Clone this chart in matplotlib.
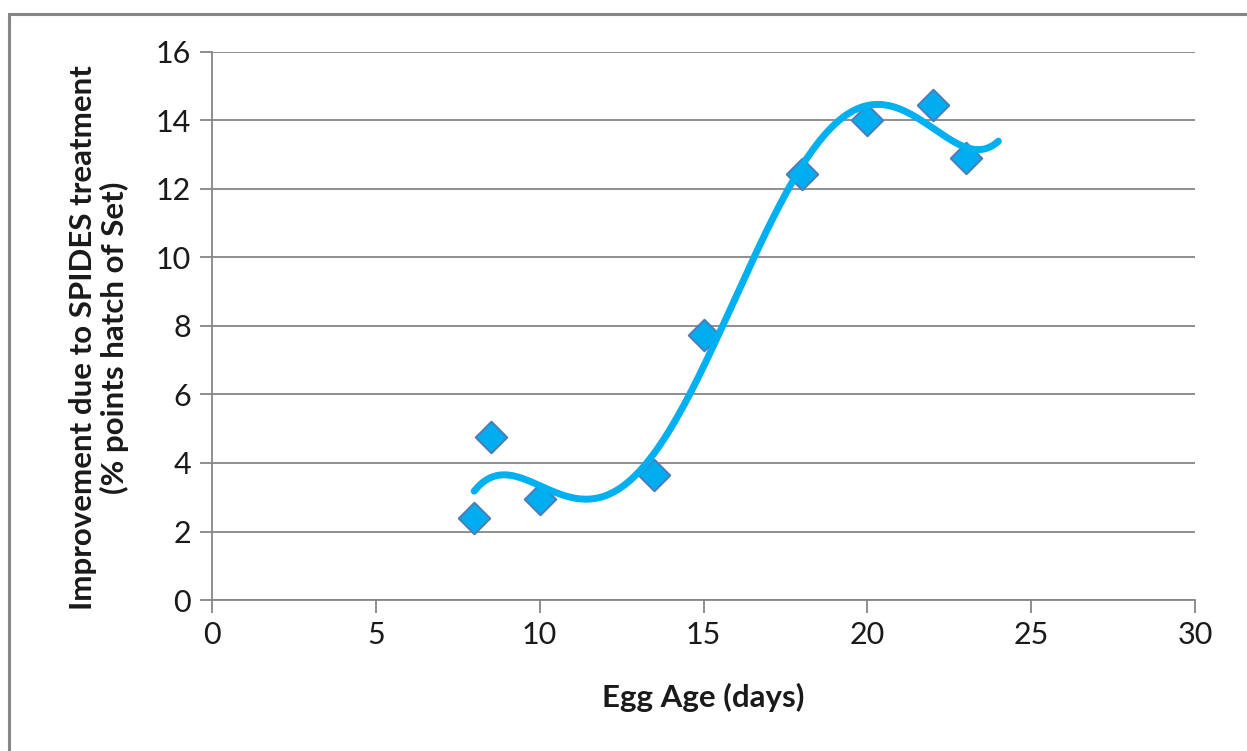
import numpy as np
import matplotlib
matplotlib.use("Agg")
import matplotlib.pyplot as plt
from matplotlib.patches import Rectangle

egg_age = [8, 8.5, 10, 13.5, 15, 18, 20, 22, 23]
improvement = [2.4, 4.75, 2.95, 3.65, 7.75, 12.45, 14.0, 14.45, 12.9]
x_ticks = [0, 5, 10, 15, 20, 25, 30]
y_ticks = [0, 2, 4, 6, 8, 10, 12, 14, 16]
trend_order = 5
trend_forward_to = 24

plt.rcParams['font.family'] = ['Lato', 'DejaVu Sans']

W, H = 1247, 751
fig = plt.figure(figsize=(W / 100, H / 100), dpi=100)
fig.patches.append(Rectangle((9 / W, -0.1), 1.2, (H - 14) / H + 0.1, transform=fig.transFigure,
                             fill=False, edgecolor='#868686', linewidth=2.2))
ax = fig.add_axes([212 / W, 1 - 600 / H, (1195 - 212) / W, (600 - 52) / H])

gray = '#868686'
ax.set_xlim(0, 30)
ax.set_ylim(0, 16)
ax.set_xticks(x_ticks)
ax.set_yticks(y_ticks)
ax.grid(axis='y', color=gray, linewidth=1.3)
ax.set_axisbelow(True)
for s in ['top', 'right']:
    ax.spines[s].set_visible(False)
for s in ['left', 'bottom']:
    ax.spines[s].set_color(gray)
    ax.spines[s].set_linewidth(1.3)
ax.tick_params(axis='both', direction='out', length=9, width=1.3, color=gray,
               labelsize=22, labelcolor='#1a1a1a', pad=6)

ax.scatter(egg_age, improvement, marker='D', s=16 ** 2, color='#00AEEF',
           edgecolor='#4A7EBB', linewidth=1.5, zorder=3)

coef = np.polyfit(egg_age, improvement, trend_order)
xs = np.linspace(min(egg_age), trend_forward_to, 300)
ax.plot(xs, np.polyval(coef, xs), color='#00B0F0', linewidth=5, solid_capstyle='round', zorder=4)

fig.text(703 / W, 1 - 697 / H, 'Egg Age (days)', fontsize=22.5, fontweight='bold',
         ha='center', va='center', color='#1a1a1a')
fig.text(99 / W, 1 - 338 / H, 'Improvement due to SPIDES treatment\n(% points hatch of Set)',
         fontsize=22.5, fontweight='bold', rotation=90, ha='center', va='center',
         multialignment='center', linespacing=1.15, color='#1a1a1a')

fig.savefig('out.png', dpi=100)
